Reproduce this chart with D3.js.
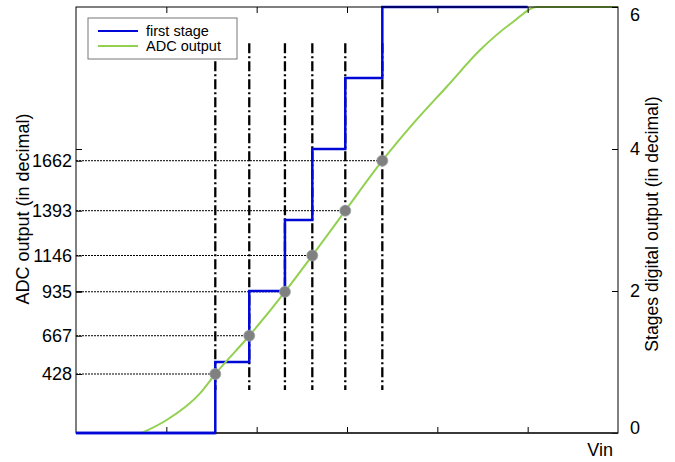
<!DOCTYPE html>
<html><head><meta charset="utf-8">
<script src="https://cdn.jsdelivr.net/npm/d3@7"></script>
<style>body{margin:0;background:#fff} text{font-family:"Liberation Sans",Arial,sans-serif}</style>
</head><body><svg id="c" width="675" height="462"></svg>
<script>
// ---- data ----
const xTicks = [1, 2, 3, 4, 5];
const rightTicks = [0, 2, 4, 6];
const rightTickLabels = ["0", "2", "4", "6"];
const adcLabels = ["428", "667", "935", "1146", "1393", "1662"];
const adcLevels = [0.831, 1.370, 1.989, 2.500, 3.131, 3.835];
const extraLeftTicks = [2, 4];
const thresholdVin = [1.542, 1.918, 2.313, 2.616, 2.981, 3.391];
const stageVin = [0, 1.542, 1.918, 2.313, 2.616, 2.981, 3.391, 5.0];
const stageCode = [0, 1, 2, 3, 4, 5, 6, 6];
const adcVin = [0.727, 1.004, 1.373, 1.542, 1.918, 2.313, 2.616, 2.981, 3.391, 3.734, 4.104, 4.473, 4.841, 5.100, 6.0];
const adcOut = [0, 0.183, 0.559, 0.831, 1.370, 1.989, 2.500, 3.131, 3.835, 4.36, 4.877, 5.394, 5.793, 6.0, 6.0];
const dashRange = [0.606, 5.49];
const seriesNames = ["first stage", "ADC output"];

// ---- layout ----
const svg = d3.select("#c");
const L = 76, R = 618, T = 7, B = 433;
const x = d3.scaleLinear().domain([0, 6]).range([L, R]);
const y = d3.scaleLinear().domain([0, 6]).range([B, T]);
const blue = "#0008d8", green = "#92d050";
const FONT = '"Liberation Sans",Arial,sans-serif';

// vertical dash-dot threshold lines
svg.append("g").selectAll("line").data(thresholdVin).join("line")
  .attr("x1", d => x(d)).attr("x2", d => x(d))
  .attr("y1", y(dashRange[1])).attr("y2", y(dashRange[0]))
  .attr("stroke", "#000").attr("stroke-width", 2.3)
  .attr("stroke-dasharray", "10,3,2,3");

// horizontal dotted lines from axis to dots
svg.append("g").selectAll("line").data(adcLevels).join("line")
  .attr("x1", L).attr("x2", (d, i) => x(thresholdVin[i]))
  .attr("y1", d => y(d)).attr("y2", d => y(d))
  .attr("stroke", "#000").attr("stroke-width", 1)
  .attr("stroke-dasharray", "2,1");

// first stage step
const stagePts = stageVin.map((v, i) => [v, stageCode[i]]);
svg.append("path")
  .attr("d", d3.line().x(d => x(d[0])).y(d => y(d[1])).curve(d3.curveStepAfter)(stagePts))
  .attr("fill", "none").attr("stroke", blue).attr("stroke-width", 2.5);

// ADC output curve
const adcPts = adcVin.map((v, i) => [v, adcOut[i]]);
svg.append("path")
  .attr("d", d3.line().x(d => x(d[0])).y(d => y(d[1])).curve(d3.curveMonotoneX)(adcPts))
  .attr("fill", "none").attr("stroke", green).attr("stroke-width", 2);

// dots
svg.append("g").selectAll("circle").data(adcLevels).join("circle")
  .attr("cx", (d, i) => x(thresholdVin[i])).attr("cy", d => y(d))
  .attr("r", 5.5).attr("fill", "#808080").attr("stroke", "#9aa4a4").attr("stroke-width", 0.8);

// axes box
svg.append("rect").attr("x", L).attr("y", T).attr("width", R - L).attr("height", B - T)
  .attr("fill", "none").attr("stroke", "#000").attr("stroke-width", 1);

function styleAxis(g) {
  g.select(".domain").remove();
  g.selectAll("line").attr("stroke", "#000");
  g.selectAll("text").attr("font-size", 18).attr("fill", "#000").style("font-family", FONT);
}
svg.append("g").attr("transform", `translate(0,${B})`)
  .call(d3.axisBottom(x).tickValues(xTicks).tickFormat("").tickSizeInner(-6).tickSizeOuter(0)).call(styleAxis);
svg.append("g").attr("transform", `translate(0,${T})`)
  .call(d3.axisTop(x).tickValues(xTicks).tickFormat("").tickSizeInner(-6).tickSizeOuter(0)).call(styleAxis);
svg.append("g").attr("transform", `translate(${L},0)`)
  .call(d3.axisLeft(y).tickValues(adcLevels).tickFormat((d, i) => adcLabels[i]).tickSizeInner(-6).tickSizeOuter(0).tickPadding(4)).call(styleAxis);
svg.append("g").attr("transform", `translate(${L},0)`)
  .call(d3.axisLeft(y).tickValues(extraLeftTicks).tickFormat("").tickSizeInner(-6).tickSizeOuter(0)).call(styleAxis);
const ra = svg.append("g").attr("transform", `translate(${R},0)`)
  .call(d3.axisRight(y).tickValues(rightTicks).tickFormat((d, i) => rightTickLabels[i]).tickSizeInner(-6).tickSizeOuter(0).tickPadding(12)).call(styleAxis);
// keep right labels inside the plot's vertical extent
ra.selectAll(".tick").each(function (d) {
  const py = y(d), cy = Math.max(T + 8, Math.min(B - 5, py));
  d3.select(this).select("text").attr("y", cy - py);
});

// bottom border thicker
svg.append("line").attr("x1", L).attr("x2", R).attr("y1", B).attr("y2", B)
  .attr("stroke", "#222").attr("stroke-width", 1.5);
// redraw stage bottom segment over the border
svg.append("line").attr("x1", x(stageVin[0])).attr("x2", x(stageVin[1])).attr("y1", B).attr("y2", B)
  .attr("stroke", blue).attr("stroke-width", 2.5);

// titles
svg.append("text").attr("transform", `translate(29,209) rotate(-90)`).attr("text-anchor", "middle")
  .attr("font-size", 18).text("ADC output (in decimal)");
svg.append("text").attr("transform", `translate(658,224) rotate(-90)`).attr("text-anchor", "middle")
  .attr("font-size", 17.6).text("Stages digital output (in decimal)");
svg.append("text").attr("x", 613).attr("y", 456).attr("text-anchor", "end")
  .attr("font-size", 18).text("Vin");

// legend
const lg = svg.append("g");
lg.append("rect").attr("x", 88).attr("y", 18).attr("width", 149).attr("height", 41)
  .attr("fill", "#fff").attr("stroke", "#777").attr("stroke-width", 1);
const legColors = [blue, green];
seriesNames.forEach((n, i) => {
  const yy = 31 + i * 15;
  lg.append("line").attr("x1", 98).attr("x2", 138).attr("y1", yy).attr("y2", yy)
    .attr("stroke", legColors[i]).attr("stroke-width", 2);
  lg.append("text").attr("x", 146).attr("y", yy + 5).attr("font-size", 14.5).text(n);
});
</script></body></html>
